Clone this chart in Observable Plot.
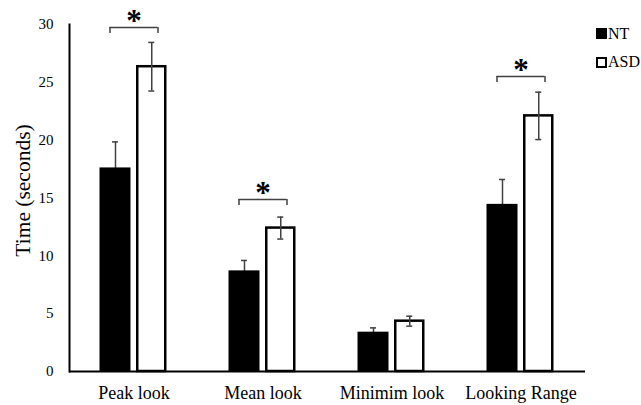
<!DOCTYPE html>
<html>
<head>
<meta charset="utf-8">
<script src="https://cdn.jsdelivr.net/npm/d3@7"></script>
<script src="https://cdn.jsdelivr.net/npm/@observablehq/plot@0.6"></script>
<style>
  html, body { margin: 0; padding: 0; background: #fff; overflow: hidden; }
  #wrap { position: relative; width: 641px; height: 405px; font-family: "Liberation Serif", "Times New Roman", serif; color: #000; }
  .sw { position: absolute; width: 11px; height: 11px; box-sizing: border-box; }
  .lt { position: absolute; font-size: 16px; line-height: 16px; white-space: nowrap; }
</style>
</head>
<body>
<div id="wrap"></div>
<script>
// ---- data ----
const categories = ["Peak look", "Mean look", "Minimim look", "Looking Range"];
const groups = ["NT", "ASD"];
const ntMeans = [17.6, 8.7, 3.4, 14.45];
const ntErrors = [2.25, 0.9, 0.37, 2.15];
const asdMeans = [26.35, 12.4, 4.35, 22.1];
const asdErrors = [2.1, 0.95, 0.43, 2.05];
const sigCategories = ["Peak look", "Mean look", "Looking Range"];
const sigHeights = [29.75, 14.87, 25.5];
const yTicks = [0, 5, 10, 15, 20, 25, 30];
const yLabel = "Time (seconds)";

const ntRows = categories.map((c, i) => ({category: c, group: groups[0], value: ntMeans[i], err: ntErrors[i]}));
const asdRows = categories.map((c, i) => ({category: c, group: groups[1], value: asdMeans[i], err: asdErrors[i]}));
const sigRows = sigCategories.map((c, i) => ({category: c, h: sigHeights[i]}));

const errColor = "#404040";
const band = 129;
const ntL = 30.5, ntR = 67.5;          // NT bar insets within band
const asL = 68.25, asR = 32.75;        // ASD bar insets within band
const ntC = (ntL + (band - ntR)) / 2;  // NT center within band
const asC = (asL + (band - asR)) / 2;  // ASD center within band
const capHalf = 3;

const chart = Plot.plot({
  width: 641,
  height: 405,
  marginLeft: 69,
  marginRight: 56,
  marginTop: 24,
  marginBottom: 34,
  style: {fontFamily: "'Liberation Serif', 'Times New Roman', serif", color: "#000", background: "#fff"},
  x: {domain: categories, padding: 0, label: null},
  y: {domain: [0, 30], label: null},
  marks: [
    // ASD bars (white with black outline)
    Plot.barY(asdRows, {x: "category", y: "value", fill: "#fff", stroke: "#000", strokeWidth: 2.5, insetLeft: asL, insetRight: asR}),
    // error bars
    Plot.ruleX(ntRows, {x: "category", y1: d => d.value - d.err, y2: d => d.value + d.err, stroke: errColor, strokeWidth: 1.5, dx: ntC - band / 2}),
    Plot.ruleX(asdRows, {x: "category", y1: d => d.value - d.err, y2: d => d.value + d.err, stroke: errColor, strokeWidth: 1.5, dx: asC - band / 2}),
    Plot.tickY(ntRows, {x: "category", y: d => d.value + d.err, stroke: errColor, strokeWidth: 1.5, insetLeft: ntC - capHalf, insetRight: band - ntC - capHalf}),
    Plot.tickY(ntRows, {x: "category", y: d => d.value - d.err, stroke: errColor, strokeWidth: 1.5, insetLeft: ntC - capHalf, insetRight: band - ntC - capHalf}),
    Plot.tickY(asdRows, {x: "category", y: d => d.value + d.err, stroke: errColor, strokeWidth: 1.5, insetLeft: asC - capHalf, insetRight: band - asC - capHalf}),
    Plot.tickY(asdRows, {x: "category", y: d => d.value - d.err, stroke: errColor, strokeWidth: 1.5, insetLeft: asC - capHalf, insetRight: band - asC - capHalf}),
    // NT bars (black)
    Plot.barY(ntRows, {x: "category", y: "value", fill: "#000", insetLeft: ntL, insetRight: ntR}),
    // significance brackets
    Plot.ruleY(sigRows, {x1: "category", x2: "category", y: "h", stroke: errColor, strokeWidth: 1.5, insetLeft: 40.5, insetRight: 40.5}),
    Plot.ruleX(sigRows, {x: "category", y1: d => d.h - 0.52, y2: "h", stroke: errColor, strokeWidth: 1.5, dx: -24}),
    Plot.ruleX(sigRows, {x: "category", y1: d => d.h - 0.52, y2: "h", stroke: errColor, strokeWidth: 1.5, dx: 24}),
    Plot.text(sigRows, {x: "category", y: "h", text: () => "*", fontSize: 31, fontWeight: "bold", lineAnchor: "bottom", dy: 3.5, fill: "#000"}),
    // axes
    Plot.axisY({ticks: yTicks, tickSize: 0, tickPadding: 16, fontSize: 15, label: null}),
    Plot.axisX({tickSize: 0, tickPadding: 15, fontSize: 18, label: null}),
    Plot.frame({anchor: "left", stroke: "#000", strokeWidth: 2}),
    Plot.ruleY([0], {stroke: "#000", strokeWidth: 2}),
    Plot.text([yLabel], {frameAnchor: "left", rotate: -90, dx: -40, dy: -7.5, fontSize: 21.5, lineAnchor: "bottom", textAnchor: "middle", fill: "#000"})
  ]
});

const wrap = document.getElementById("wrap");
wrap.appendChild(chart);

// legend
const legendItems = [
  {label: groups[0], fill: "#000", border: "none", top: 28},
  {label: groups[1], fill: "#fff", border: "2.5px solid #000", top: 56.5}
];
for (const it of legendItems) {
  const sw = document.createElement("div");
  sw.className = "sw";
  sw.style.left = "596px";
  sw.style.top = it.top + "px";
  sw.style.background = it.fill;
  sw.style.border = it.border;
  wrap.appendChild(sw);
  const t = document.createElement("div");
  t.className = "lt";
  t.style.left = "608px";
  t.style.top = (it.top - 2.5) + "px";
  t.textContent = it.label;
  wrap.appendChild(t);
}
chart.style.position = "absolute";
chart.style.left = "0";
chart.style.top = "0";
</script>
</body>
</html>
